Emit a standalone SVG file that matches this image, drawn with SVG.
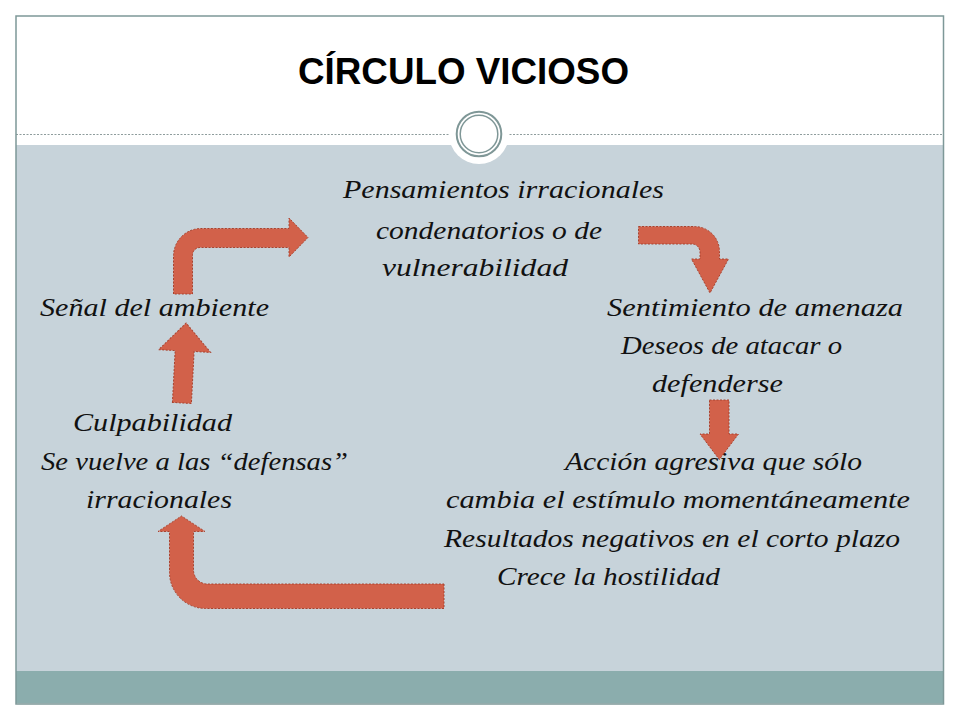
<svg xmlns="http://www.w3.org/2000/svg" width="960" height="720" viewBox="0 0 960 720">
<style>
.t{font-style:italic;font-size:25px;fill:#111}
.arr{fill:#D2614A;stroke:#A9432F;stroke-width:1;stroke-dasharray:2 1.5}
</style>
<rect x="0" y="0" width="960" height="720" fill="#fff"/>
<rect x="16" y="145" width="928" height="526" fill="#C7D3DA"/>
<rect x="16" y="671" width="928" height="32" fill="#8BADAD"/>
<line x1="16" y1="703.5" x2="944" y2="703.5" stroke="#D5E2E2" stroke-width="1"/>
<line x1="16" y1="134.5" x2="944" y2="134.5" stroke="#8E9C9C" stroke-width="1" stroke-dasharray="2 1.5"/>
<circle cx="479" cy="134" r="30" fill="#fff"/>
<circle cx="479" cy="134" r="22.3" fill="none" stroke="#7F9797" stroke-width="2"/>
<circle cx="479" cy="134" r="18.8" fill="none" stroke="#7F9797" stroke-width="1.5"/>
<rect x="16" y="16" width="927.5" height="688" fill="none" stroke="#7E9898" stroke-width="1.5"/>
<g id="title"><text x="298" y="84" font-family="Liberation Sans, Arial, sans-serif" font-weight="bold" font-size="36" textLength="331" lengthAdjust="spacingAndGlyphs">CÍRCULO VICIOSO</text></g>
<g id="connectors">
<path class="arr" d="M173.5,294 L173.5,256 A27.5,27.5 0 0 1 201,228.5 L289,228.5 L289,218 L308,237.5 L289,257 L289,247.5 L200,247.5 A7.5,7.5 0 0 0 192.5,255 L192.5,294 Z"/>
<path class="arr" transform="rotate(3,184,363)" d="M174.5,403 L174.5,351 L158,351 L184,323 L210,351 L193.5,351 L193.5,403 Z"/>
<path class="arr" d="M638.5,226.5 L694.5,226.5 A25,25 0 0 1 719.5,251.5 L719.5,259 L728.5,259 L710,293 L691.5,259 L700,259 L700,252 A8,8 0 0 0 692,244 L638.5,244 Z"/>
<path class="arr" d="M709.5,400 L729,400 L729,434 L738.5,434 L719.3,459.5 L700,434 L709.5,434 Z"/>
<path class="arr" d="M444,584 L444,608.5 L205.5,608.5 A36,36 0 0 1 169.5,572.5 L169.5,531.5 L158,531.5 L181.5,516 L205,531.5 L193.5,531.5 L193.5,570 A14,14 0 0 0 207.5,584 Z"/>
</g>
<g font-family="Liberation Serif, Times New Roman, serif">
<g id="n-pensamientos">
<text class="t" x="343" y="198" textLength="321" lengthAdjust="spacingAndGlyphs">Pensamientos irracionales</text>
<text class="t" x="376" y="239" textLength="226" lengthAdjust="spacingAndGlyphs">condenatorios o de</text>
<text class="t" x="382" y="276" textLength="186" lengthAdjust="spacingAndGlyphs">vulnerabilidad</text>
</g>
<g id="n-senal">
<text class="t" x="40" y="316" textLength="229" lengthAdjust="spacingAndGlyphs">Señal del ambiente</text>
</g>
<g id="n-sentimiento">
<text class="t" x="607" y="316" textLength="296" lengthAdjust="spacingAndGlyphs">Sentimiento de amenaza</text>
<text class="t" x="621" y="354" textLength="221" lengthAdjust="spacingAndGlyphs">Deseos de atacar o</text>
<text class="t" x="652" y="392" textLength="131" lengthAdjust="spacingAndGlyphs">defenderse</text>
</g>
<g id="n-culpabilidad">
<text class="t" x="73" y="431" textLength="159" lengthAdjust="spacingAndGlyphs">Culpabilidad</text>
<text class="t" x="41" y="470" textLength="307" lengthAdjust="spacingAndGlyphs">Se vuelve a las “defensas”</text>
<text class="t" x="86" y="508" textLength="146" lengthAdjust="spacingAndGlyphs">irracionales</text>
</g>
<g id="n-accion">
<text class="t" x="565" y="470" textLength="297" lengthAdjust="spacingAndGlyphs">Acción agresiva que sólo</text>
<text class="t" x="446" y="508" textLength="464" lengthAdjust="spacingAndGlyphs">cambia el estímulo momentáneamente</text>
<text class="t" x="444" y="547" textLength="456" lengthAdjust="spacingAndGlyphs">Resultados negativos en el corto plazo</text>
<text class="t" x="497" y="585" textLength="223" lengthAdjust="spacingAndGlyphs">Crece la hostilidad</text>
</g>
</g>
</svg>
